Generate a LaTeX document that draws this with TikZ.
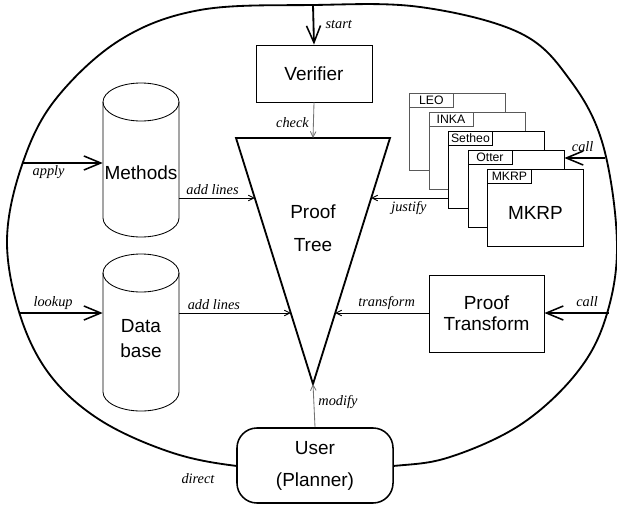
\documentclass[tikz,border=0pt]{standalone}
\usepackage{fontspec}
\setmainfont{Liberation Sans}
\newfontfamily\lblfont{Liberation Serif}
\usetikzlibrary{arrows.meta, calc, positioning}
\tikzset{
    box/.style={draw, line width=0.6pt, fill=white, inner sep=0pt, align=center},
    lbl/.style={font=\lblfont\itshape\fontsize{10.2}{12}\selectfont, inner sep=0pt},
    tab/.style={draw, line width=0.6pt, fill=white, anchor=north west,
        inner sep=0pt, minimum width=1.1cm, minimum height=0.35cm,
        font=\fontsize{8.7}{10}\selectfont},
    feed/.style={line width=1.3pt,
        -{Straight Barb[length=12pt, width=10pt, line width=1.1pt]}},
    flow/.style={line width=0.6pt, -{Straight Barb[length=4pt, width=4pt]}},
    cylline/.style={line width=0.6pt},
    drum/.pic={
        \draw[cylline] (-38,0) -- (-38,#1) arc[start angle=180, end angle=360,
            x radius=0.95cm, y radius=0.475cm] -- (38,0);
        \draw[cylline] (0,0) ellipse[x radius=0.95cm, y radius=0.475cm];
    },
}

\begin{document}
\begin{tikzpicture}[x=0.025cm, y=-0.025cm, font=\fontsize{13.5}{15}\selectfont]
    \useasboundingbox (0,0) rectangle (617,506);
    % system border
    \draw[line width=1.3pt] plot[smooth cycle, tension=0.6] coordinates {
        (313,5) (420,7) (520,33) (570,80) (603,145) (617,245) (605,320)
        (575,375) (520,425) (450,457) (393,466) (313,470) (237,466)
        (170,452) (100,420) (50,375) (20,315) (7,240) (22,165) (55,100)
        (120,40) (200,10)};

    % proof tree
    \coordinate (tl) at (236,138);
    \coordinate (tr) at (390,138);
    \coordinate (tip) at (313,384);
    \coordinate (ttop) at (313,138);
    \draw[line width=1.3pt] (tl) -- (tr) -- (tip) -- cycle;
    \node[align=center] (tree) at (313,228) {Proof\\[8.5pt]Tree};
    \coordinate (lA) at ($(tl)!0.2439!(tip)$);
    \coordinate (lB) at ($(tl)!0.7114!(tip)$);
    \coordinate (rA) at ($(tr)!0.2439!(tip)$);
    \coordinate (rB) at ($(tr)!0.7114!(tip)$);

    \node[box, minimum width=2.9cm, minimum height=1.425cm] (verifier)
        at (314,73.5) {Verifier};

    % databases
    \pic at (141,102) {drum=116};
    \node[inner sep=0pt, minimum width=1.9cm] (methods) at (141,173) {Methods};
    \pic at (141,273) {drum=119};
    \node[inner sep=0pt, minimum width=1.9cm, align=center] (dbase)
        at (141,339) {Data\\[2.8pt]base};

    % provers
    \foreach \nm/\col [count=\i from 0] in {LEO/black!65, INKA/black!65,
            Setheo/black, Otter/black, MKRP/black} {
        \node[box, draw=\col, anchor=north west, minimum width=2.4cm,
            minimum height=1.925cm] (prv\i) at ({409+19.5*\i},{93+19*\i}) {};
        \node[tab, draw=\col] (tab\i) at (prv\i.north west) {\nm};
    }
    \node (mkrp) at ($(prv4.center)+(0,5)$) {MKRP};

    \node[box, minimum width=2.875cm, minimum height=1.925cm] (ptrans)
        at (486.5,313.5) {Proof\\Transform};

    \node[box, line width=1.1pt, rounded corners=0.5cm, minimum width=3.9cm,
        minimum height=1.875cm] (user) at (315,465.5) {User\\[7.8pt](Planner)};

    % outside entries
    \coordinate (startin) at (313,5);
    \coordinate (applyin) at (22,163);
    \coordinate (lookin) at (20,313);
    \coordinate (callA) at (605,158);
    \coordinate (callB) at (609,313);
    \draw[feed] (startin) -- (verifier.north)
        node[lbl, right=8pt, midway] {start};
    \draw[feed] (applyin) -- (applyin -| methods.west)
        node[lbl, below=1.5pt, pos=0.33] {apply};
    \draw[feed] (lookin) -- (lookin -| dbase.west)
        node[lbl, above=1.5pt, pos=0.4] {lookup};
    \draw[feed] (callA) -- (callA -| prv3.east)
        node[lbl, above=4pt, pos=0.55] {call};
    \draw[feed] (callB) -- (callB -| ptrans.east)
        node[lbl, above=4pt, pos=0.34] {call};

    % inner flows
    \draw[flow, draw=black!55] (verifier.south) -- (ttop)
        node[lbl, text=black, left=3pt, pos=0.58] {check};
    \draw[flow] (methods.east |- lA) -- (lA)
        node[lbl, above=2pt, pos=0.44] {add lines};
    \draw[flow] (dbase.east |- lB) -- (lB)
        node[lbl, above=2pt, pos=0.31] {add lines};
    \draw[flow] (prv2.west |- rA) -- (rA)
        node[lbl, below=2pt, pos=0.51] {justify};
    \draw[flow] (ptrans.west |- rB) -- (rB)
        node[lbl, above=2pt, pos=0.45] {transform};
    \draw[flow, draw=black!55] (user.north) -- (tip)
        node[lbl, text=black, right=3pt, pos=0.59] {modify};
    \node[lbl] (direct) at (198,479) {direct};
\end{tikzpicture}
\end{document}
